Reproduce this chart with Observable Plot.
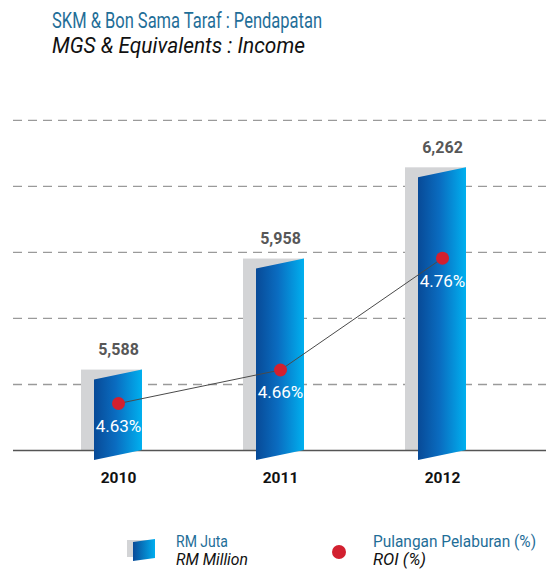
<!DOCTYPE html>
<html><head><meta charset="utf-8">
<script src="https://cdn.jsdelivr.net/npm/d3@7"></script>
<script src="https://cdn.jsdelivr.net/npm/@observablehq/plot@0.6"></script>
<style>
body{margin:0;background:#fff;}
#wrap{position:relative;width:546px;height:569px;overflow:hidden;font-family:Roboto,"Liberation Sans",sans-serif;}
.t{position:absolute;white-space:nowrap;line-height:1;transform-origin:0 50%;}
#title{left:52px;top:9.5px;font-size:22px;color:#1f6e98;}
#subtitle{left:52px;top:34.5px;font-size:22px;color:#111;font-style:italic;}
.lg1{font-size:16px;color:#1f6e98;}
.lg2{font-size:16px;color:#111;font-style:italic;}
</style></head><body>
<div id="wrap">
  <div id="title" class="t fit" data-w="270">SKM &amp; Bon Sama Taraf : Pendapatan</div>
  <div id="subtitle" class="t fit" data-w="253">MGS &amp; Equivalents : Income</div>
  <div class="t" style="left:126px;top:537px;">
    <svg width="32" height="28">
      <defs><linearGradient id="lgGrad" x1="0" x2="1" y1="0" y2="0">
        <stop offset="0" stop-color="#0a4b98"/><stop offset="1" stop-color="#00aeef"/></linearGradient></defs>
      <rect x="1" y="3" width="28" height="17" fill="#d3d4d6"/>
      <polygon points="7,5 29,2 29,21 7,24" fill="url(#lgGrad)"/>
    </svg>
  </div>
  <div class="t lg1 fit" data-w="52" style="left:176px;top:533.5px;">RM Juta</div>
  <div class="t lg2 fit" data-w="72" style="left:176px;top:551.5px;">RM Million</div>
  <div class="t" style="left:331px;top:544px;"><svg width="16" height="16"><circle cx="8" cy="8" r="7" fill="#d2202f"/></svg></div>
  <div class="t lg1 fit" data-w="163" style="left:373px;top:533.5px;">Pulangan Pelaburan (%)</div>
  <div class="t lg2 fit" data-w="53" style="left:373px;top:551.5px;">ROI (%)</div>
</div>
<script>
// ---- data ----
const years = ["2010", "2011", "2012"];
const incomeRM = [5588, 5958, 6262];
const valueLabels = ["5,588", "5,958", "6,262"];
const roiPct = [4.63, 4.66, 4.76];
const roiLabels = ["4.63%", "4.66%", "4.76%"];
const gridTicks = [5540, 5760, 5980, 6200, 6420];
const incomeDomain = [5320, 6453];
const roiDomain = [4.588, 4.892];

const rows = years.map((y, i) => ({
  year: y, income: incomeRM[i], base: incomeDomain[0],
  vl: valueLabels[i], roi: roiPct[i], rl: roiLabels[i]
}));

const W = 546, H = 410, MT = 20, MB = 50, ML = 13, MR = 0;
const FONT = "Roboto, 'Liberation Sans', sans-serif";
const xOpts = {type: "band", domain: years, paddingInner: 0.7055, paddingOuter: 0.491, axis: null};
const baseStyle = {position: "absolute", top: "90px", left: "0px", fontFamily: FONT, background: "transparent", overflow: "visible"};

const p1 = Plot.plot({
  width: W, height: H, marginTop: MT, marginBottom: MB, marginLeft: ML, marginRight: MR,
  style: baseStyle,
  x: xOpts,
  y: {domain: incomeDomain, axis: null},
  marks: [
    Plot.ruleY(gridTicks, {stroke: "#9a9a9a", strokeWidth: 1.3, strokeDasharray: "9,6"}),
    Plot.barY(rows, {x: "year", y1: "base", y2: "income", fill: "#d3d4d6", insetLeft: -13}),
    Plot.ruleY([incomeDomain[0]], {stroke: "#555", strokeWidth: 1.6}),
    Plot.barY(rows, {x: "year", y1: "base", y2: "income", fill: "url(#blueGrad)"}),
    Plot.text(rows, {x: "year", y: "income", text: "vl", dy: -20, fill: "#575757", fontSize: 16, fontWeight: "bold"}),
    Plot.text(rows, {x: "year", y: "base", text: "year", dy: 28, fill: "#111", fontSize: 15.5, fontWeight: "bold"})
  ]
});

// gradient + skewed front face
const s1 = d3.select(p1);
const g = s1.insert("defs", ":first-child").append("linearGradient")
  .attr("id", "blueGrad").attr("x1", 0).attr("x2", 1).attr("y1", 0).attr("y2", 0);
g.append("stop").attr("offset", 0).attr("stop-color", "#084a97");
g.append("stop").attr("offset", 0.45).attr("stop-color", "#0a6cc0");
g.append("stop").attr("offset", 1).attr("stop-color", "#00b0ef");
s1.selectAll('[fill="url(#blueGrad)"] rect, rect[fill="url(#blueGrad)"]').each(function() {
  const r = d3.select(this);
  const xr = +r.attr("x") + +r.attr("width");
  r.attr("transform", `translate(${xr},0) skewY(-11.8) translate(${-xr},0)`);
});

const p2 = Plot.plot({
  width: W, height: H, marginTop: MT, marginBottom: MB, marginLeft: ML, marginRight: MR,
  style: baseStyle,
  x: xOpts,
  y: {domain: roiDomain, axis: null},
  marks: [
    Plot.line(rows, {x: "year", y: "roi", stroke: "#4a4a4a", strokeWidth: 1}),
    Plot.dot(rows, {x: "year", y: "roi", r: 6.5, fill: "#d2202f", stroke: "none"}),
    Plot.text(rows, {x: "year", y: "roi", text: "rl", dy: 23, fill: "white", fontSize: 17})
  ]
});

const wrap = document.getElementById("wrap");
wrap.appendChild(p1);
wrap.appendChild(p2);

// fit HTML texts horizontally to the reference widths
document.querySelectorAll(".fit").forEach(el => {
  const w = el.getBoundingClientRect().width;
  const target = +el.dataset.w;
  if (w > 0) el.style.transform = `scaleX(${target / w})`;
});
</script>
</body></html>
